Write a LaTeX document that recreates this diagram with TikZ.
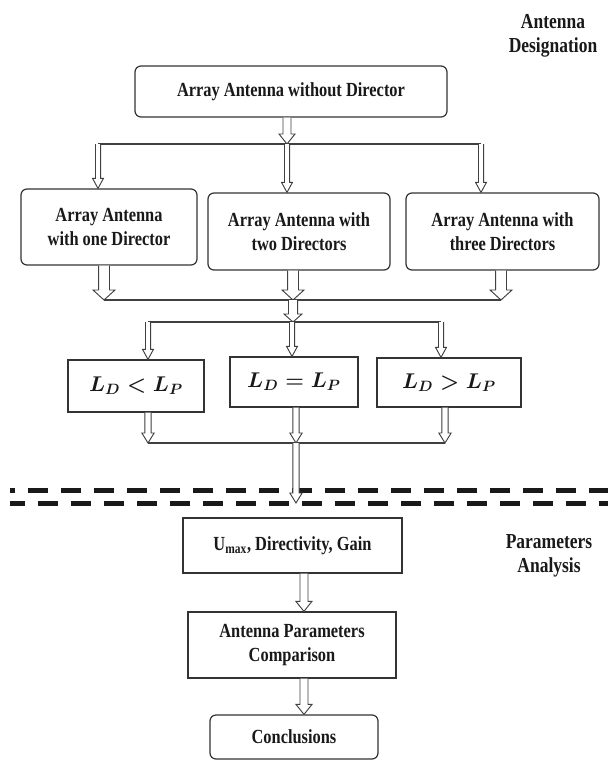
\documentclass[tikz,border=0pt]{standalone}
\usepackage{fix-cm}
\usepackage{fontspec}
\setmainfont{Liberation Serif}[FakeStretch=0.82, BoldFont={Liberation Serif Bold}]
\usetikzlibrary{positioning,calc}

\tikzset{
  box/.style={draw=black!80, line width=0.9pt, inner sep=0pt, align=center, text=black!90,
    font=\fontsize{15}{18.5}\selectfont\bfseries},
  rbox/.style={box, rounded corners=4.5pt},
  cond/.style={box, font=\fontsize{16}{20}\selectfont\boldmath},
  note/.style={align=center, text=black!90, font=\fontsize{16}{18}\selectfont\bfseries},
  bar/.style={draw=black!75, line width=0.9pt},
  rail/.style={draw=black!90, line width=3.75pt, dash pattern=on 15pt off 9.75pt},
  % hollow block arrow: half shaft, half head, head length
  hollow/.style n args={3}{draw=black!75, line width=0.7pt, fill=white,
    to path={let \p1=(\tikztostart), \p2=(\tikztotarget) in
      ({\x1-#1},\y1) -- ({\x1-#1},{\y2+#3}) -- ({\x1-#2},{\y2+#3}) -- (\x1,\y2)
      -- ({\x1+#2},{\y2+#3}) -- ({\x1+#1},{\y2+#3}) -- ({\x1+#1},\y1)}},
  slim/.style={hollow={1.9pt}{4.1pt}{7.5pt}},
  plain/.style={hollow={2.3pt}{4.6pt}{7.5pt}},
  mid/.style={hollow={3pt}{6pt}{7.5pt}},
  wide/.style={hollow={4.1pt}{8.25pt}{7.5pt}}
}

\begin{document}
\begin{tikzpicture}[x=0.75pt, y=-0.75pt]
  \useasboundingbox (0,0) rectangle (608,760);

  \node[note] (design) at (553,36) {Antenna\\Designation};
  \node[note] (analysis) at (549,556) {Parameters\\Analysis};

  \node[rbox, minimum width=234pt, minimum height=38.25pt] (top) at (291,91.5) {Array Antenna without Director};
  \node[rbox, minimum width=132pt, minimum height=57pt] (one) at (109,227) {Array Antenna\\with one Director};
  \node[rbox, minimum width=136.5pt, minimum height=57.75pt] (two) at (299,231.5) {Array Antenna with\\two Directors};
  \node[rbox, minimum width=144.75pt, minimum height=57.75pt] (three) at (502.5,231.5) {Array Antenna with\\three Directors};

  \node[cond, minimum width=102pt, minimum height=39pt] (less) at (136,386) {$L_D < L_P$};
  \node[cond, minimum width=96pt, minimum height=37.5pt] (equal) at (294,382) {$L_D = L_P$};
  \node[cond, minimum width=108pt, minimum height=36.75pt] (more) at (449,382.5) {$L_D > L_P$};

  \node[box, minimum width=164.25pt, minimum height=41.25pt] (umax) at (292.5,545.5) {U\textsubscript{max}, Directivity, Gain};
  \node[box, minimum width=156pt, minimum height=49.5pt] (comp) at (292,645) {Antenna Parameters\\Comparison};
  \node[rbox, minimum width=126pt, minimum height=33pt] (concl) at (294,737) {Conclusions};

  % junction lines
  \coordinate (s1) at (98,144);  \coordinate (s2) at (287,144); \coordinate (s3) at (481,144);
  \coordinate (m1) at (104,300); \coordinate (m2) at (293,300); \coordinate (m3) at (501,300);
  \coordinate (d1) at (148,322); \coordinate (d2) at (292,322); \coordinate (d3) at (441,322);
  \coordinate (e1) at (148,443); \coordinate (e2) at (296,443); \coordinate (e3) at (445,443);
  \coordinate (split) at (296,503);

  \draw[bar] (s1) -- (s3);
  \draw[bar] (m1) -- (m3);
  \draw[bar] (d1) -- (d3);
  \draw[bar] (e1) -- (e3);

  % separator
  \draw[rail, dash phase=11.25pt] (10,490) -- (608,490);
  \draw[rail, dash phase=3.75pt] (10,503) -- (608,503);

  \draw[mid] (top.south -| s2) to (s2);
  \draw[slim] (s1) to (s1 |- one.north);
  \draw[slim] (s2) to (s2 |- two.north);
  \draw[slim] (s3) to (s3 |- three.north);

  \draw[wide] (one.south -| m1) to (m1);
  \draw[wide] (two.south -| m2) to (m2);
  \draw[wide] (three.south -| m3) to (m3);
  \draw[hollow={3.4pt}{6.75pt}{6pt}] (m2) to (m2 |- d2);

  \draw[slim] (d1) to (d1 |- less.north);
  \draw[slim] (d2) to (d2 |- equal.north);
  \draw[slim] (d3) to (d3 |- more.north);

  \draw[plain] (less.south -| e1) to (e1);
  \draw[plain] (equal.south -| e2) to (e2);
  \draw[plain] (more.south -| e3) to (e3);
  \draw[plain] (e2) to (split);

  \draw[mid] ([xshift=8.6pt]umax.south) to ([xshift=8.6pt]comp.north);
  \draw[mid] ([xshift=9pt]comp.south) to ([xshift=6.75pt]concl.north);
\end{tikzpicture}
\end{document}
